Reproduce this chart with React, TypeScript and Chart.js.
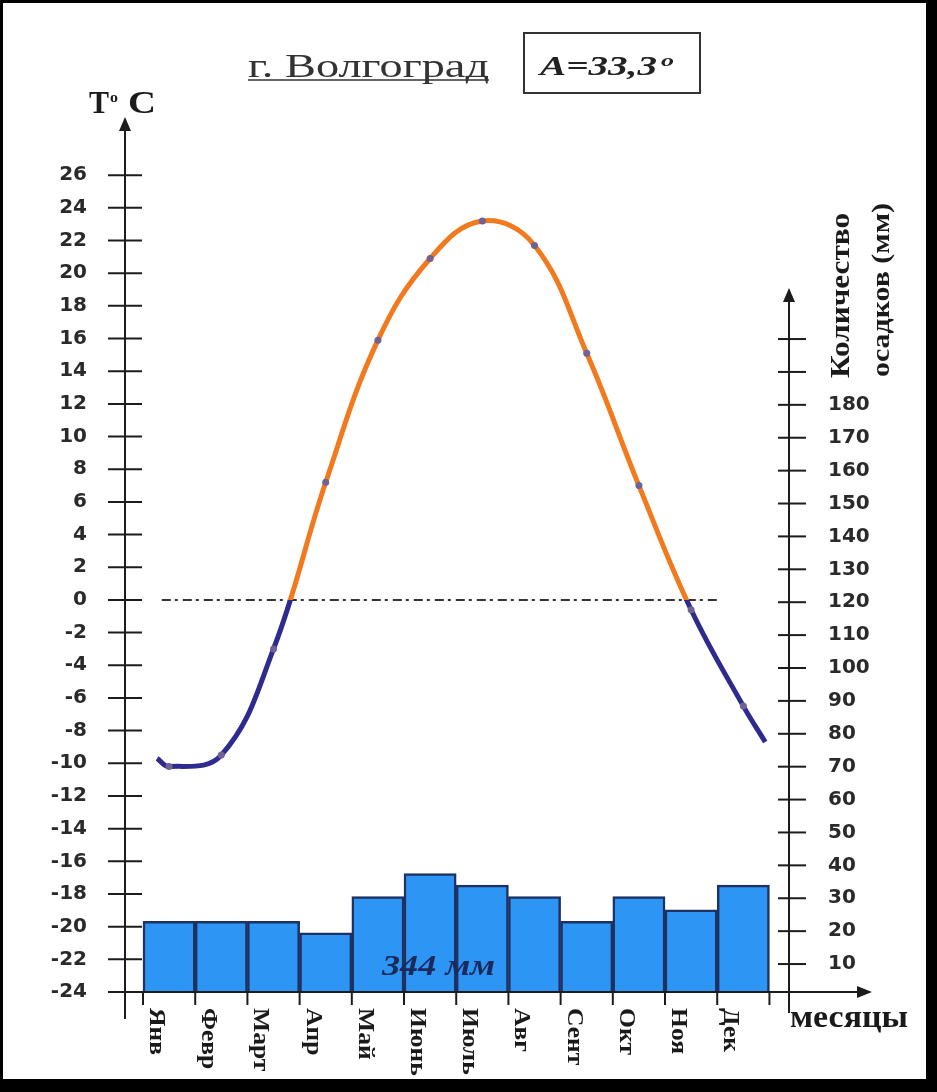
import React, { useEffect, useRef } from 'react';
import { Chart, registerables } from 'chart.js';

Chart.register(...registerables);

// ---------- data ----------
const months = ['Янв', 'Февр', 'Март', 'Апр', 'Май', 'Июнь', 'Июль', 'Авг', 'Сент', 'Окт', 'Ноя', 'Дек'];
const temperature = [-10.2, -9.5, -3.0, 7.2, 15.9, 20.9, 23.2, 21.7, 15.1, 7.0, -0.6, -6.5];
const precipitation = [23, 23, 23, 19.5, 30.5, 37.5, 34, 30.5, 23, 30.5, 26.5, 34];
const curveStart = { x: 0.27, y: -9.7 };
const curveEnd = { x: 11.92, y: -8.7 };
const zeroLine = [{ x: 0.36, y: 0 }, { x: 11.0, y: 0 }];
const leftTicks = [-24, -22, -20, -18, -16, -14, -12, -10, -8, -6, -4, -2, 0, 2, 4, 6, 8, 10, 12, 14, 16, 18, 20, 22, 24, 26];
const rightTicks = [10, 20, 30, 40, 50, 60, 70, 80, 90, 100, 110, 120, 130, 140, 150, 160, 170, 180, 190, 200];
const rightLabelMax = 180;
const monthBounds = [0, 1, 2, 3, 4, 5, 6, 7, 8, 9, 10, 11, 12];
const titleText = 'г. Волгоград';
const amplitudeText = 'A=33,3';
const degreeText = 'o';
const totalText = '344 мм';
const yTitle = ['T', 'o', 'C'];
const y2Title = ['Количество', 'осадков (мм)'];
const xTitle = 'месяцы';

// ---------- styles ----------
const ORANGE = '#F27A1E';
const NAVY = '#2E2A8E';
const BAR = '#2D95F3';
const BAR_BORDER = '#1F3160';
const AXIS = '#1c1c1c';
const TEXT = '#2a2a2a';
const SERIF = '"Liberation Serif", serif';

function drawText(ctx: CanvasRenderingContext2D, text: string, x: number, y: number, font: string, color: string, opts: { width?: number; sx?: number; angle?: number } = {}) {
  ctx.save();
  ctx.font = font;
  ctx.fillStyle = color;
  ctx.textAlign = 'left';
  ctx.textBaseline = 'alphabetic';
  ctx.translate(x, y);
  if (opts.angle) ctx.rotate(opts.angle);
  const w = ctx.measureText(text).width;
  const s = opts.width ? opts.width / w : opts.sx || 1;
  ctx.scale(s, 1);
  ctx.fillText(text, 0, 0);
  ctx.restore();
}

const decorPlugin = {
  id: 'decor',
  beforeDraw(chart: any) {
    const { ctx, width, height } = chart;
    ctx.save();
    ctx.fillStyle = '#000';
    ctx.fillRect(0, 0, width, height);
    ctx.fillStyle = '#fff';
    ctx.fillRect(3, 3, 923, 1076);
    ctx.restore();
  },
  afterDraw(chart: any) {
    const { ctx, chartArea: a, scales } = chart;
    const xs = scales.x, ys = scales.y, y2s = scales.y2;
    const L = a.left, R = a.right, B = a.bottom, T = a.top;
    ctx.save();
    ctx.strokeStyle = AXIS;
    ctx.fillStyle = AXIS;
    ctx.lineWidth = 2;
    const line = (x1: number, y1: number, x2: number, y2: number) => {
      ctx.beginPath(); ctx.moveTo(x1, y1); ctx.lineTo(x2, y2); ctx.stroke();
    };
    const arrowUp = (cx: number, tip: number) => {
      ctx.beginPath(); ctx.moveTo(cx, tip); ctx.lineTo(cx - 6, tip + 14); ctx.lineTo(cx + 6, tip + 14); ctx.closePath(); ctx.fill();
    };
    const arrowRight = (tip: number, cy: number) => {
      ctx.beginPath(); ctx.moveTo(tip, cy); ctx.lineTo(tip - 15, cy - 6); ctx.lineTo(tip - 15, cy + 6); ctx.closePath(); ctx.fill();
    };
    // left axis
    line(L, B + 27, L, T + 10);
    arrowUp(L, T - 1);
    ys.ticks.forEach((t: any) => { const p = ys.getPixelForValue(t.value); line(L - 17, p, L + 17, p); });
    // right axis
    const rTip = y2s.getPixelForValue(215.5);
    line(R, B + 21, R, rTip + 10);
    arrowUp(R, rTip);
    y2s.ticks.forEach((t: any) => { const p = y2s.getPixelForValue(t.value); line(R - 11, p, R + 17, p); });
    // x axis
    line(L - 7, B, R + 70, B);
    arrowRight(R + 83, B);
    xs.ticks.forEach((t: any) => { const p = xs.getPixelForValue(t.value); line(p, B, p, B + 13); });

    // title
    drawText(ctx, titleText, 248, 77, `33px ${SERIF}`, '#333', { width: 241 });
    ctx.strokeStyle = '#333';
    ctx.lineWidth = 1.5;
    line(248, 80, 489, 80);
    ctx.lineWidth = 2;
    ctx.strokeRect(524, 33, 176, 60);
    drawText(ctx, amplitudeText, 540, 75, `italic bold 27px ${SERIF}`, '#222', { width: 117 });
    drawText(ctx, degreeText, 661, 66, `italic bold 16px ${SERIF}`, '#222', { width: 13 });

    // axis titles
    drawText(ctx, yTitle[0], 89, 113, `bold 31px ${SERIF}`, '#1a1a1a', { width: 20 });
    drawText(ctx, yTitle[1], 110, 102, `bold 15px ${SERIF}`, '#1a1a1a', { width: 8 });
    drawText(ctx, yTitle[2], 128, 113, `bold 31px ${SERIF}`, '#1a1a1a', { width: 28 });
    drawText(ctx, y2Title[0], 849, 378, `bold 28px ${SERIF}`, '#1a1a1a', { width: 165, angle: -Math.PI / 2 });
    drawText(ctx, y2Title[1], 889, 377, `bold 26px ${SERIF}`, '#1a1a1a', { width: 174, angle: -Math.PI / 2 });
    drawText(ctx, xTitle, 790, 1027, `bold 32px ${SERIF}`, '#1a1a1a', { width: 118 });

    // total precipitation
    drawText(ctx, totalText, 382, 975, `italic bold 29px ${SERIF}`, '#1b2a5c', { width: 113 });

    // month labels (rotated clockwise)
    ctx.font = `bold 23px ${SERIF}`;
    const sx = 47 / ctx.measureText(months[0]).width;
    months.forEach((m, i) => {
      const px = xs.getPixelForValue(i) + 7;
      drawText(ctx, m, px, B + 16, `bold 23px ${SERIF}`, '#1a1a1a', { sx, angle: Math.PI / 2 });
    });
    ctx.restore();
  },
};

function lineGradient(chart: any) {
  const { chartArea, scales } = chart;
  if (!chartArea || !scales.y) return ORANGE;
  const y0 = scales.y.getPixelForValue(0);
  const g = chart.ctx.createLinearGradient(0, chartArea.top, 0, chartArea.bottom);
  const stop = Math.min(1, Math.max(0, (y0 - chartArea.top) / (chartArea.bottom - chartArea.top)));
  g.addColorStop(0, ORANGE);
  g.addColorStop(stop, ORANGE);
  g.addColorStop(stop, NAVY);
  g.addColorStop(1, NAVY);
  return g;
}

export default function App() {
  const ref = useRef<HTMLCanvasElement>(null);
  useEffect(() => {
    document.body.style.margin = '0';
    document.body.style.background = '#000';
    const canvas = ref.current!;
    const tempData = [curveStart, ...temperature.map((y, i) => ({ x: i + 0.5, y })), curveEnd];
    const chart = new Chart(canvas, {
      type: 'bar',
      data: {
        datasets: [
          {
            type: 'line',
            label: 'Температура',
            data: tempData,
            xAxisID: 'x',
            yAxisID: 'y',
            borderColor: (c: any) => lineGradient(c.chart),
            borderWidth: 5,
            tension: 0.4,
            fill: false,
            pointRadius: (c: any) => (c.dataIndex === 0 || c.dataIndex === tempData.length - 1 ? 0 : 3.5),
            pointBackgroundColor: '#6f6294',
            pointBorderWidth: 0,
            order: 1,
          } as any,
          {
            type: 'line',
            label: '0',
            data: zeroLine,
            xAxisID: 'x',
            yAxisID: 'y',
            borderColor: '#333',
            borderWidth: 2,
            borderDash: [9, 4, 3, 5],
            pointRadius: 0,
            order: 2,
          } as any,
          {
            type: 'bar',
            label: 'Осадки',
            data: precipitation.map((y, i) => ({ x: i + 0.5, y })),
            xAxisID: 'x',
            yAxisID: 'y2',
            backgroundColor: BAR,
            borderColor: BAR_BORDER,
            borderWidth: 2.5,
            categoryPercentage: 1,
            barPercentage: 1,
            order: 3,
          } as any,
        ],
      },
      options: {
        animation: false,
        responsive: false,
        devicePixelRatio: 1,
        events: [],
        layout: { padding: { top: 118, bottom: 100, left: 0, right: 0 } },
        plugins: { legend: { display: false }, tooltip: { enabled: false }, title: { display: false } },
        scales: {
          x: {
            type: 'linear',
            display: false,
            offset: false,
            min: -0.345,
            max: 12.375,
            afterBuildTicks: (s: any) => { s.ticks = monthBounds.map((v) => ({ value: v })); },
          },
          y: {
            type: 'linear',
            position: 'left',
            min: -24,
            max: 29.5,
            border: { display: false },
            grid: { display: false, drawTicks: false, tickLength: 0 },
            afterBuildTicks: (s: any) => { s.ticks = leftTicks.map((v) => ({ value: v })); },
            afterFit: (s: any) => { s.width = 125; },
            ticks: {
              autoSkip: false,
              padding: 38,
              color: TEXT,
              font: { family: "'DejaVu Sans', sans-serif", size: 20, weight: 'bold' },
              callback: (v: any) => String(v),
            },
          },
          y2: {
            type: 'linear',
            position: 'right',
            min: 1.5,
            max: 267.2,
            border: { display: false },
            grid: { display: false, drawTicks: false, tickLength: 0 },
            afterBuildTicks: (s: any) => { s.ticks = rightTicks.map((v) => ({ value: v })); },
            afterFit: (s: any) => { s.width = 148; },
            ticks: {
              autoSkip: false,
              padding: 39,
              color: TEXT,
              font: { family: "'DejaVu Sans', sans-serif", size: 20, weight: 'bold' },
              callback: (v: any) => (v <= rightLabelMax ? String(v) : ''),
            },
          },
        },
      } as any,
      plugins: [decorPlugin],
    });
    let alive = true;
    const fonts: any = (document as any).fonts;
    if (fonts && fonts.load) {
      Promise.all([
        fonts.load('33px "Liberation Serif"', 'гВ'),
        fonts.load('bold 23px "Liberation Serif"', 'Янв'),
        fonts.load('italic bold 27px "Liberation Serif"', 'A3м'),
      ]).then(() => { if (alive) chart.draw(); }).catch(() => {});
    }
    return () => { alive = false; chart.destroy(); };
  }, []);
  return <canvas ref={ref} width={937} height={1092} style={{ display: 'block' }} />;
}
